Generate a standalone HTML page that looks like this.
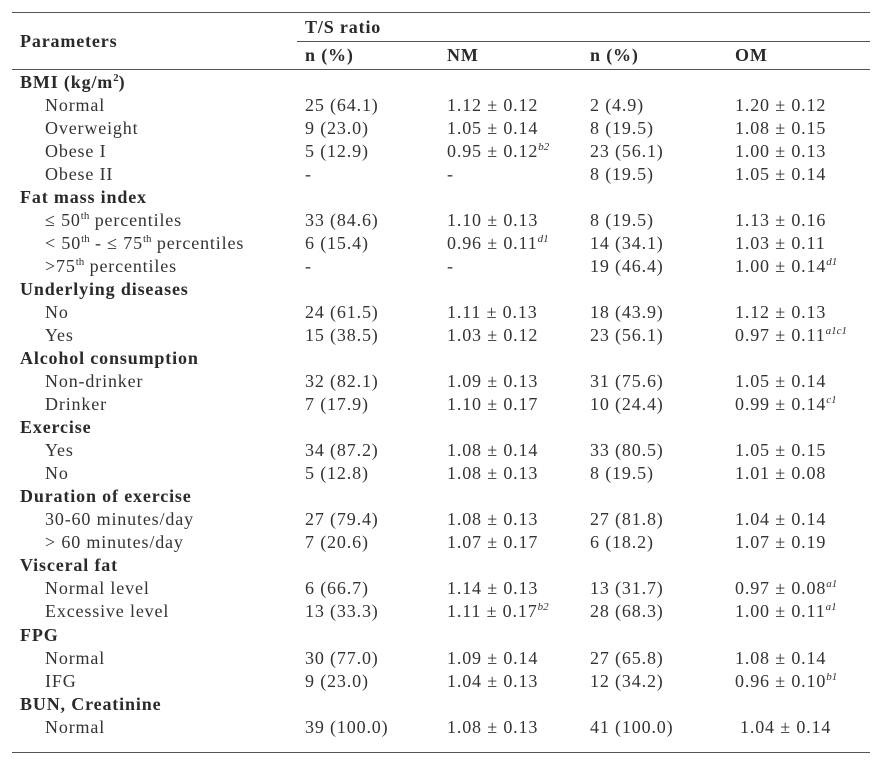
<!DOCTYPE html>
<html><head><meta charset="utf-8"><style>
body{margin:0;width:888px;height:769px;background:#fff;position:relative;font-family:"Liberation Serif",serif;font-size:18px;letter-spacing:0.85px;color:#333;overflow:hidden}
.r{position:absolute;left:0;width:888px;height:23px;line-height:23px;white-space:nowrap}
.r span{position:absolute;top:0}
.a{left:20px}.i{left:45px}.c1{left:305px}.c2{left:447px}.c3{left:590px}.c4{left:735px}
b{font-weight:bold;color:#2a2a2a}
sup{font-size:11px;font-style:italic;line-height:0;letter-spacing:0}
.l{position:absolute;height:1px;background:#555}
</style></head><body>
<div class="l" style="left:12px;width:858px;top:12px"></div>
<div class="l" style="left:297px;width:573px;top:41px"></div>
<div class="l" style="left:12px;width:858px;top:69px"></div>
<div class="l" style="left:12px;width:858px;top:752px"></div>
<div class="r" style="top:16px"><span class="c1"><b>T/S ratio</b></span></div>
<div class="r" style="top:30px"><span class="a"><b>Parameters</b></span></div>
<div class="r" style="top:44px"><span class="c1"><b>n (%)</b></span><span class="c2"><b>NM</b></span><span class="c3"><b>n (%)</b></span><span class="c4"><b>OM</b></span></div>
<div id="t"></div>
<script>
var rows=[
["h","BMI (kg/m<sup style='font-style:normal'>2</sup>)"],
["Normal","25 (64.1)","1.12 ± 0.12","2 (4.9)","1.20 ± 0.12"],
["Overweight","9 (23.0)","1.05 ± 0.14","8 (19.5)","1.08 ± 0.15"],
["Obese I","5 (12.9)","0.95 ± 0.12<sup>b2</sup>","23 (56.1)","1.00 ± 0.13"],
["Obese II","-","-","8 (19.5)","1.05 ± 0.14"],
["h","Fat mass index"],
["≤ 50<sup style='font-style:normal'>th</sup> percentiles","33 (84.6)","1.10 ± 0.13","8 (19.5)","1.13 ± 0.16"],
["< 50<sup style='font-style:normal'>th</sup> - ≤ 75<sup style='font-style:normal'>th</sup> percentiles","6 (15.4)","0.96 ± 0.11<sup>d1</sup>","14 (34.1)","1.03 ± 0.11"],
[">75<sup style='font-style:normal'>th</sup> percentiles","-","-","19 (46.4)","1.00 ± 0.14<sup>d1</sup>"],
["h","Underlying diseases"],
["No","24 (61.5)","1.11 ± 0.13","18 (43.9)","1.12 ± 0.13"],
["Yes","15 (38.5)","1.03 ± 0.12","23 (56.1)","0.97 ± 0.11<sup>a1c1</sup>"],
["h","Alcohol consumption"],
["Non-drinker","32 (82.1)","1.09 ± 0.13","31 (75.6)","1.05 ± 0.14"],
["Drinker","7 (17.9)","1.10 ± 0.17","10 (24.4)","0.99 ± 0.14<sup>c1</sup>"],
["h","Exercise"],
["Yes","34 (87.2)","1.08 ± 0.14","33 (80.5)","1.05 ± 0.15"],
["No","5 (12.8)","1.08 ± 0.13","8 (19.5)","1.01 ± 0.08"],
["h","Duration of exercise"],
["30-60 minutes/day","27 (79.4)","1.08 ± 0.13","27 (81.8)","1.04 ± 0.14"],
["> 60 minutes/day","7 (20.6)","1.07 ± 0.17","6 (18.2)","1.07 ± 0.19"],
["h","Visceral fat"],
["Normal level","6 (66.7)","1.14 ± 0.13","13 (31.7)","0.97 ± 0.08<sup>a1</sup>"],
["Excessive level","13 (33.3)","1.11 ± 0.17<sup>b2</sup>","28 (68.3)","1.00 ± 0.11<sup>a1</sup>"],
["h","FPG"],
["Normal","30 (77.0)","1.09 ± 0.14","27 (65.8)","1.08 ± 0.14"],
["IFG","9 (23.0)","1.04 ± 0.13","12 (34.2)","0.96 ± 0.10<sup>b1</sup>"],
["h","BUN, Creatinine"],
["Normal","39 (100.0)","1.08 ± 0.13","41 (100.0)","1.04 ± 0.14"]];
var h="";
rows.forEach(function(r,k){var top=(82+k*23.04-11.5).toFixed(1);
if(r[0]=="h")h+='<div class="r" style="top:'+top+'px"><span class="a"><b>'+r[1]+'</b></span></div>';
else h+='<div class="r" style="top:'+top+'px"><span class="i">'+r[0]+'</span><span class="c1">'+r[1]+'</span><span class="c2">'+r[2]+'</span><span class="c3">'+r[3]+'</span><span class="c4"'+(k==28?' style="left:740px"':'')+'>'+r[4]+'</span></div>';});
document.getElementById("t").innerHTML=h;
</script>
</body></html>
